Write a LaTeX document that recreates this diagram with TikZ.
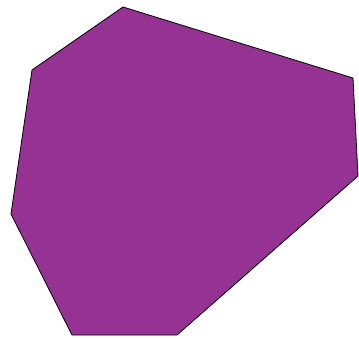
\documentclass[tikz,border=0pt]{standalone}
\usepackage{tikz}

\definecolor{plum}{RGB}{150,50,148}

\begin{document}
\begin{tikzpicture}[x=1pt,y=-1pt]
  \useasboundingbox (0,0) rectangle (359,338);
  \draw[fill=plum,thick,line join=round]
    (123,7) -- (353,78) -- (358,176) -- (177,335) -- (72,335)
    -- (11,214) -- (32,70) -- cycle;
\end{tikzpicture}
\end{document}
